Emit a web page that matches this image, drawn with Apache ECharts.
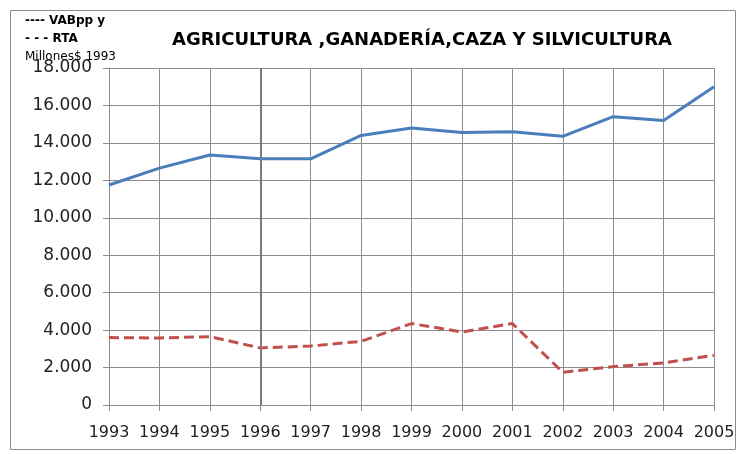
<!DOCTYPE html>
<html>
<head>
<meta charset="utf-8">
<script src="https://cdn.jsdelivr.net/npm/echarts@6/dist/echarts.min.js"></script>
<style>
  html, body { margin: 0; padding: 0; background: #fff; }
  #chart { width: 744px; height: 454px; }
</style>
</head>
<body>
<div id="chart"></div>
<script>
// datos
var years = ['1993', '1994', '1995', '1996', '1997', '1998', '1999', '2000', '2001', '2002', '2003', '2004', '2005']
var vabppy = [11750, 12650, 13350, 13150, 13150, 14400, 14800, 14550, 14600, 14350, 15400, 15200, 17000]
var rta = [3600, 3580, 3650, 3050, 3150, 3400, 4350, 3900, 4350, 1750, 2050, 2250, 2650]
var yTicks = ['0', '2.000', '4.000', '6.000', '8.000', '10.000', '12.000', '14.000', '16.000', '18.000']

var chart = echarts.init(document.getElementById('chart'))

var font = 'DejaVu Sans, sans-serif'
var grey = '#8c8c8c'

chart.setOption({
  animation: false,
  backgroundColor: '#fff',
  title: {
    text: 'AGRICULTURA ,GANADERÍA,CAZA Y SILVICULTURA',
    left: 417,
    top: 26,
    textAlign: 'center',
    textStyle: { fontFamily: font, fontSize: 18, fontWeight: 'bold', color: '#000' }
  },
  graphic: [
    { // marco exterior
      type: 'rect',
      shape: { x: 10.5, y: 10.5, width: 725, height: 439 },
      style: { fill: 'none', stroke: grey, lineWidth: 1 },
      silent: true
    },
    { type: 'text', left: 25, top: 15, style: { text: '---- VABpp y', font: 'bold 12px ' + font, fill: '#000' } },
    { type: 'text', left: 25, top: 33, style: { text: '- - - RTA', font: 'bold 12px ' + font, fill: '#000' } },
    { type: 'text', left: 25, top: 51, style: { text: 'Millones$ 1993', font: '12px ' + font, fill: '#000' } }
  ],
  grid: { left: 109, right: 30, top: 68, bottom: 49 },
  xAxis: {
    type: 'category',
    data: years,
    boundaryGap: false,
    axisLine: { show: false },
    axisTick: { show: true, interval: 0, length: 6, lineStyle: { color: grey } },
    splitLine: { show: true, interval: 0, lineStyle: { color: grey, width: 1 } },
    axisLabel: { interval: 0, fontFamily: font, fontSize: 16, color: '#222', margin: 20 }
  },
  yAxis: {
    type: 'value',
    min: 0,
    max: 18000,
    interval: 2000,
    axisLine: { show: true, lineStyle: { color: grey } },
    axisTick: { show: true, length: 6, lineStyle: { color: grey } },
    splitLine: { show: true, lineStyle: { color: grey, width: 1 } },
    axisLabel: {
      fontFamily: font, fontSize: 17, color: '#222', margin: 17,
      formatter: function(v) { return yTicks[Math.round(v / 2000)] }
    }
  },
  series: [
    {
      name: 'VABpp y',
      type: 'line',
      data: vabppy,
      symbol: 'none',
      lineStyle: { color: '#4a7ebb', width: 3 },
      // linea vertical mas oscura en 1996
      markLine: {
        silent: true,
        symbol: 'none',
        label: { show: false },
        lineStyle: { color: '#7a7a7a', width: 2, type: 'solid' },
        data: [{ xAxis: '1996' }]
      },
      z: 3
    },
    {
      name: 'RTA',
      type: 'line',
      data: rta,
      symbol: 'none',
      lineStyle: { color: '#c0504d', width: 3, type: [10, 5] },
      z: 3
    }
  ]
})
</script>
</body>
</html>
